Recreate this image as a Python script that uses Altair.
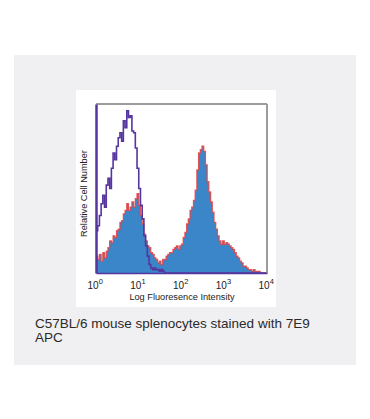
import altair as alt
import pandas as pd

# ---- data ----
bin_width = 0.04  # in decades (log10 units)

control_counts = [
    25, 28, 34, 41, 46, 39, 52, 56, 50, 62,
    71, 67, 75, 80, 83, 78, 90, 86, 96, 92,
    93, 84, 83, 74, 62, 50, 40, 32, 22, 16,
    10, 5, 3, 2, 3, 2, 2, 1, 2, 1,
    0, 0, 0, 0, 0, 0, 0, 0, 0, 0,
    0, 0, 0, 0, 0, 0, 0, 0, 0, 0,
    0, 0, 0, 0, 0, 0, 0, 0, 0, 0,
    0, 0, 0, 0, 0, 0, 0, 0, 0, 0,
    0, 0, 0, 0, 0, 0, 0, 0, 0, 0,
    0, 0, 0, 0, 0, 0, 0, 0, 0, 0,
]

stained_counts = [
    10, 8, 11, 7, 12, 9, 13, 15, 19, 18,
    22, 21, 25, 26, 30, 31, 35, 37, 41, 37,
    39, 42, 39, 44, 47, 40, 34, 29, 23, 19,
    16, 15, 12, 11, 9, 8, 6, 7, 5, 8,
    8, 10, 11, 12, 12, 14, 15, 16, 14, 16,
    17, 21, 24, 29, 32, 37, 39, 43, 49, 61,
    71, 73, 75, 72, 64, 54, 48, 42, 36, 30,
    26, 22, 19, 17, 19, 17, 18, 17, 16, 15,
    14, 12, 10, 9, 7, 6, 4, 4, 3, 2,
    2, 1, 2, 1, 1, 1, 0, 0, 0, 0,
]

tick_values = [0, 1, 2, 3, 4]
tick_base = "10"
tick_exponents = ["0", "1", "2", "3", "4"]
x_title = "Log Fluoresence Intensity"
y_title = "Relative Cell Number"
caption_lines = ["C57BL/6 mouse splenocytes stained with 7E9", "APC"]

# ---- build tables ----
centers = [round((i + 0.5) * bin_width, 3) for i in range(len(control_counts))]
df = pd.DataFrame({"x": centers, "control": control_counts, "stained": stained_counts})
ticks_df = pd.DataFrame({"v": tick_values, "base": [tick_base] * len(tick_values), "exp": tick_exponents})
one = pd.DataFrame({"k": [0]})

NARROW = "Liberation Sans Narrow, Arial Narrow, Liberation Sans, sans-serif"
PURPLE = "#55359e"
BLUE = "#3a86c8"
RED = "#e8403f"
FRAME = "#9c9c9c"
TXT = "#222222"

x_scale = alt.Scale(domain=[0, 4], nice=False, zero=False)
y_scale = alt.Scale(domain=[0, 100], nice=False, zero=True)

x_axis = alt.Axis(
    values=tick_values, labels=False, title=x_title, grid=False,
    ticks=False, tickSize=0,
    titleFont=NARROW, titleFontSize=9.2, titleFontWeight="normal", titleColor=TXT,
    titleY=23, titleBaseline="middle",
    domainColor=PURPLE, domainWidth=1.5, zindex=1,
)
y_axis = alt.Axis(
    labels=False, ticks=False, grid=False, title=y_title,
    titleFont=NARROW, titleFontSize=9.2, titleFontWeight="normal", titleColor=TXT,
    titleX=-13, titleY=89, titleAngle=270, titleAlign="center", titleBaseline="middle",
    domainColor=PURPLE, domainWidth=2.5, zindex=1,
)

# background panel (light grey) and white figure box
panel = alt.Chart(one).mark_rect(color="#f0eff2").encode(
    x=alt.value(-82), x2=alt.value(260), y=alt.value(-49), y2=alt.value(261)
)
white_box = alt.Chart(one).mark_rect(color="#ffffff").encode(
    x=alt.value(-20), x2=alt.value(180), y=alt.value(-14), y2=alt.value(203)
)

CAPTION_FONT = "Liberation Sans, Arial, sans-serif"
caption1 = alt.Chart(one).mark_text(
    align="left", baseline="middle", fontSize=13.5, font=CAPTION_FONT, color="#2a2a2a"
).encode(x=alt.value(-61), y=alt.value(219.5), text=alt.value(caption_lines[0]))
caption2 = alt.Chart(one).mark_text(
    align="left", baseline="middle", fontSize=13.5, font=CAPTION_FONT, color="#2a2a2a"
).encode(x=alt.value(-61), y=alt.value(233.5), text=alt.value(caption_lines[1]))

# tick labels 10^n drawn as base + raised exponent, positioned by the x scale
tick_base_text = alt.Chart(ticks_df).mark_text(
    align="right", baseline="middle", fontSize=10, font=NARROW, color=TXT, dx=2.5
).encode(x=alt.X("v:Q", scale=x_scale, axis=x_axis), y=alt.value(181.5), text="base:N")
tick_exp_text = alt.Chart(ticks_df).mark_text(
    align="left", baseline="middle", fontSize=7.5, font=NARROW, color=TXT, dx=2.8
).encode(x=alt.X("v:Q", scale=x_scale, axis=x_axis), y=alt.value(177.5), text="exp:N")

# data layers (every layer shares identical axis definitions so they merge)
area = alt.Chart(df).mark_area(interpolate="step", color=BLUE).encode(
    x=alt.X("x:Q", scale=x_scale, axis=x_axis),
    y=alt.Y("stained:Q", scale=y_scale, axis=y_axis),
)
red_line = alt.Chart(df).mark_line(interpolate="step", color=RED, strokeWidth=1.3, opacity=0.85).encode(
    x=alt.X("x:Q", scale=x_scale, axis=x_axis),
    y=alt.Y("stained:Q", scale=y_scale, axis=y_axis),
)
purple_line = alt.Chart(df).mark_line(interpolate="step", color=PURPLE, strokeWidth=1.6).encode(
    x=alt.X("x:Q", scale=x_scale, axis=x_axis),
    y=alt.Y("control:Q", scale=y_scale, axis=y_axis),
)

frame_top = alt.Chart(one).mark_rule(color=FRAME, strokeWidth=2).encode(
    x=alt.XDatum(0, scale=x_scale, axis=x_axis), x2=alt.X2Datum(4),
    y=alt.YDatum(100, scale=y_scale, axis=y_axis),
)
frame_right = alt.Chart(one).mark_rule(color=FRAME, strokeWidth=2).encode(
    x=alt.XDatum(4, scale=x_scale, axis=x_axis),
    y=alt.YDatum(0, scale=y_scale, axis=y_axis), y2=alt.Y2Datum(100),
)

chart = alt.layer(
    panel, white_box, caption1, caption2, frame_top, frame_right,
    area, red_line, purple_line, tick_base_text, tick_exp_text,
).properties(
    width=171, height=169,
    padding={"left": 88, "top": 96, "right": 95, "bottom": 138},
    autosize=alt.AutoSizeParams(type="none"),
).configure_view(stroke="transparent")

chart.save("out.html", embed_options={"renderer": "svg", "actions": False})
